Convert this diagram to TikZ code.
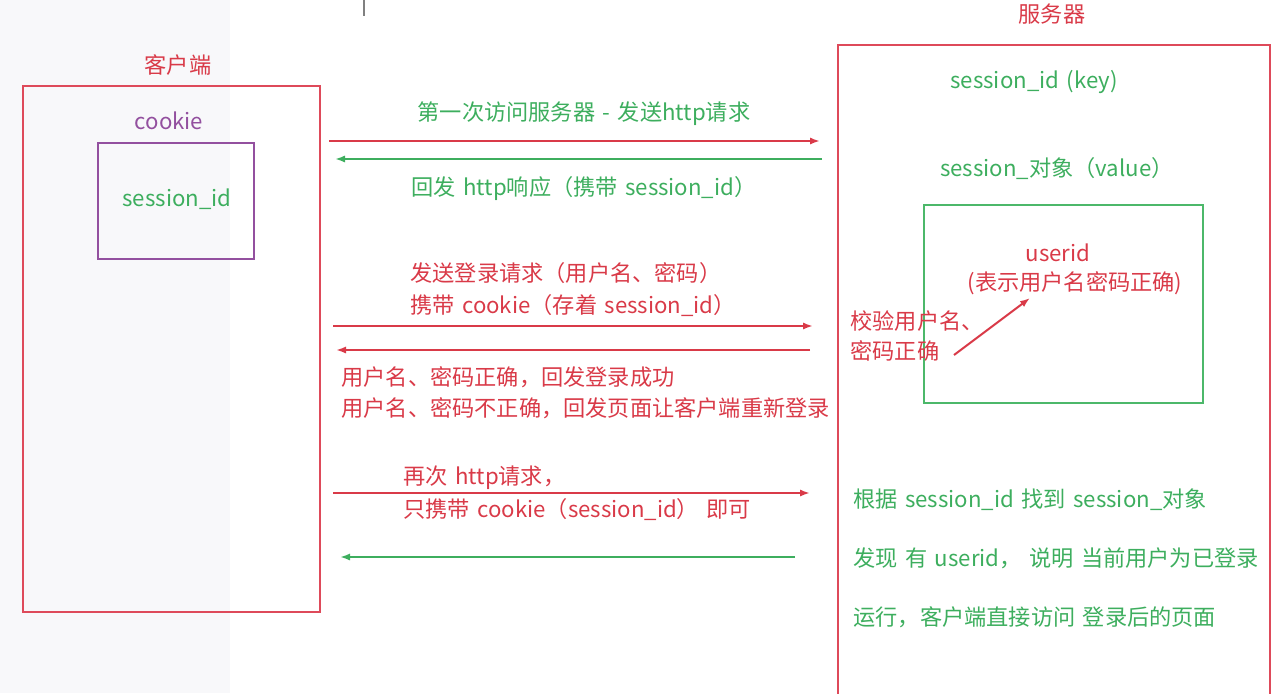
\documentclass[tikz,border=0pt]{standalone}
\usepackage{fontspec}
\setmainfont[WordSpace=1.5]{Noto Sans CJK SC}
\usetikzlibrary{arrows.meta}
\definecolor{cred}{HTML}{D93A48}
\definecolor{bred}{HTML}{DE4A5A}
\definecolor{cgreen}{HTML}{3DAE5E}
\definecolor{bgreen}{HTML}{4CB86A}
\definecolor{cpurple}{HTML}{93509F}
\definecolor{panel}{HTML}{F8F8FA}
\tikzset{
  txt/.style={inner sep=0pt, font=\fontsize{11.1}{14}\selectfont},
  redtxt/.style={txt, text=cred},
  greentxt/.style={txt, text=cgreen},
  purpletxt/.style={txt, text=cpurple},
  redbox/.style={draw=bred, line width=1pt},
  greenbox/.style={draw=bgreen, line width=0.9pt},
  purplebox/.style={draw=cpurple, line width=0.9pt},
  msg/.style={line width=1pt, -{Latex[length=5pt,width=3.6pt]}},
  redmsg/.style={msg, draw=cred},
  greenmsg/.style={msg, draw=cgreen},
}
\begin{document}
\begin{tikzpicture}[x=0.5pt, y=-0.5pt]
\useasboundingbox (0,0) rectangle (1284,693);
\fill[panel] (0,0) rectangle (230,693);
\coordinate (ticktop) at (364,0);
\coordinate (tickbot) at (364,16);
\draw[gray, line width=0.6pt] (ticktop) -- (tickbot);

% client
\node[redtxt] (clientlbl) at (178,65) {客户端};
\node[redbox, minimum width=148.5pt, minimum height=263pt, inner sep=0pt] (client) at (171.5,349) {};
\node[purpletxt] (cookielbl) at (169,121) {cookie};
\node[purplebox, minimum width=78pt, minimum height=58pt, inner sep=0pt] (cookie) at (176,201) {};
\node[greentxt] (csid) at (177,199) {session\_id};

% server
\node[redtxt] (serverlbl) at (1052,14) {服务器};
\coordinate (srvbl) at (838,700);
\coordinate (srvtl) at (838,45);
\coordinate (srvtr) at (1270,45);
\coordinate (srvbr) at (1270,700);
\draw[redbox] (srvbl) -- (srvtl) -- (srvtr) -- (srvbr);
\node[greentxt] (skey) at (1034,82) {session\_id (key)};
\node[greentxt] (sval) at (1057,169) {session\_对象（value）};
\node[greenbox, minimum width=139.5pt, minimum height=99pt, inner sep=0pt] (sobj) at (1063.5,304) {};
\node[redtxt] (userid) at (1058,253) {userid};
\node[redtxt] (useridnote) at (1075,283) {(表示用户名密码正确)};
\node[redtxt, anchor=west] (check1) at (850,321) {校验用户名、};
\node[redtxt, anchor=west] (check2) at (850,351) {密码正确};
\coordinate (chkfrom) at (954,355);
\coordinate (chkto) at (1030,298);
\draw[redmsg] (chkfrom) -- (chkto);

% messages
\coordinate (m1s) at (329,141); \coordinate (m1e) at (820,141);
\coordinate (m2s) at (822,159); \coordinate (m2e) at (335,159);
\coordinate (m3s) at (333,326); \coordinate (m3e) at (813,326);
\coordinate (m4s) at (810,350); \coordinate (m4e) at (336,350);
\coordinate (m5s) at (333,493); \coordinate (m5e) at (810,493);
\coordinate (m6s) at (795,557); \coordinate (m6e) at (340,557);
\draw[redmsg] (m1s) -- (m1e);
\draw[greenmsg] (m2s) -- (m2e);
\draw[redmsg] (m3s) -- (m3e);
\draw[redmsg] (m4s) -- (m4e);
\draw[redmsg] (m5s) -- (m5e);
\draw[greenmsg] (m6s) -- (m6e);

\node[greentxt] (t1) at (584,114) {第一次访问服务器 - 发送http请求};
\node[greentxt] (t2) at (584,189) {回发 http响应（携带 session\_id）};
\node[redtxt, anchor=west] (t3a) at (410,273) {发送登录请求（用户名、密码）};
\node[redtxt, anchor=west] (t3b) at (410,306) {携带 cookie（存着 session\_id）};
\node[redtxt, anchor=west] (t4a) at (341,377) {用户名、密码正确，回发登录成功};
\node[redtxt, anchor=west] (t4b) at (341,408) {用户名、密码不正确，回发页面让客户端重新登录};
\node[redtxt, anchor=west] (t5a) at (403,478) {再次 http请求，};
\node[redtxt, anchor=west] (t5b) at (403,510) {只携带 cookie（session\_id） 即可};

\node[greentxt, anchor=west] (r1) at (853,500) {根据 session\_id 找到 session\_对象};
\node[greentxt, anchor=west] (r2) at (853,558) {发现 有 userid， 说明 当前用户为已登录};
\node[greentxt, anchor=west] (r3) at (853,617) {运行，客户端直接访问 登录后的页面};
\end{tikzpicture}
\end{document}
